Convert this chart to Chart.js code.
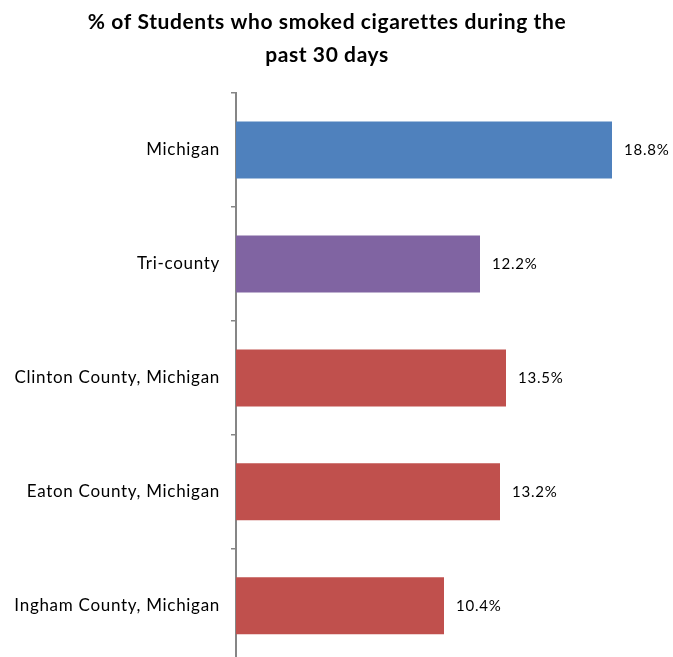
<!DOCTYPE html>
<html>
<head>
<meta charset="utf-8">
<script src="https://cdn.jsdelivr.net/npm/chart.js@4"></script>
<style>
  body { margin: 0; overflow: hidden; background: #fff; }
</style>
</head>
<body>
<canvas id="chart_elem" width="673" height="684"></canvas>
<script>
// chart data
const categories = ['Michigan', 'Tri-county', 'Clinton County, Michigan', 'Eaton County, Michigan', 'Ingham County, Michigan'];
const percentValues = [18.8, 12.2, 13.5, 13.2, 10.4];
const barColors = ['#4F81BD', '#8064A2', '#C0504D', '#C0504D', '#C0504D'];
const titleLines = ['% of Students who smoked cigarettes during the', 'past 30 days'];

const fontFamily = 'Lato, "Open Sans", sans-serif';

// slightly wider letters, closer to the original's Calibri look
const spacingPlugin = {
  id: 'spacing',
  beforeDraw: (chart) => { chart.ctx.letterSpacing = '0.7px'; }
};

// title drawn by hand so it sits where the original does
const titlePlugin = {
  id: 'manualTitle',
  afterDraw: (chart) => {
    const ctx = chart.ctx;
    ctx.save();
    ctx.fillStyle = '#000';
    ctx.letterSpacing = '0.6px';
    ctx.font = 'bold 21px ' + fontFamily;
    ctx.textAlign = 'center';
    ctx.textBaseline = 'middle';
    ctx.fillText(titleLines[0], 327, 22);
    ctx.fillText(titleLines[1], 327, 55);
    ctx.restore();
  }
};

// value labels at the end of each bar
const valueLabels = {
  id: 'valueLabels',
  afterDatasetsDraw: (chart) => {
    const ctx = chart.ctx;
    const meta = chart.getDatasetMeta(0);
    ctx.save();
    ctx.fillStyle = '#000';
    ctx.letterSpacing = '0.8px';
    ctx.font = '15px ' + fontFamily;
    ctx.textAlign = 'left';
    ctx.textBaseline = 'middle';
    meta.data.forEach((bar, i) => {
      ctx.fillText(percentValues[i].toFixed(1) + '%', bar.x + 12, bar.y);
    });
    ctx.restore();
  }
};

const canvas = document.getElementById('chart_elem');
const ctx = canvas.getContext('2d');

const chart = new Chart(ctx, {
  type: 'bar',
  data: {
    labels: categories,
    datasets: [{
      data: percentValues,
      backgroundColor: barColors,
      borderWidth: 0,
      categoryPercentage: 1,
      barPercentage: 0.5
    }]
  },
  options: {
    indexAxis: 'y',
    responsive: false,
    animation: false,
    layout: { padding: { top: 93, right: 37, left: 0, bottom: 0 } },
    plugins: {
      legend: { display: false },
      tooltip: { enabled: false }
    },
    scales: {
      x: {
        display: false,
        min: 0,
        max: 20
      },
      y: {
        afterFit: (scale) => { scale.width = 236; },
        grid: {
          drawOnChartArea: false,
          drawTicks: true,
          tickLength: 5,
          color: '#868686',
          lineWidth: 1.5,
          offset: true
        },
        border: { display: true, color: '#868686', width: 2 },
        ticks: {
          color: '#000',
          padding: 11,
          font: { family: fontFamily, size: 17 }
        }
      }
    }
  },
  plugins: [spacingPlugin, titlePlugin, valueLabels]
});
</script>
</body>
</html>
